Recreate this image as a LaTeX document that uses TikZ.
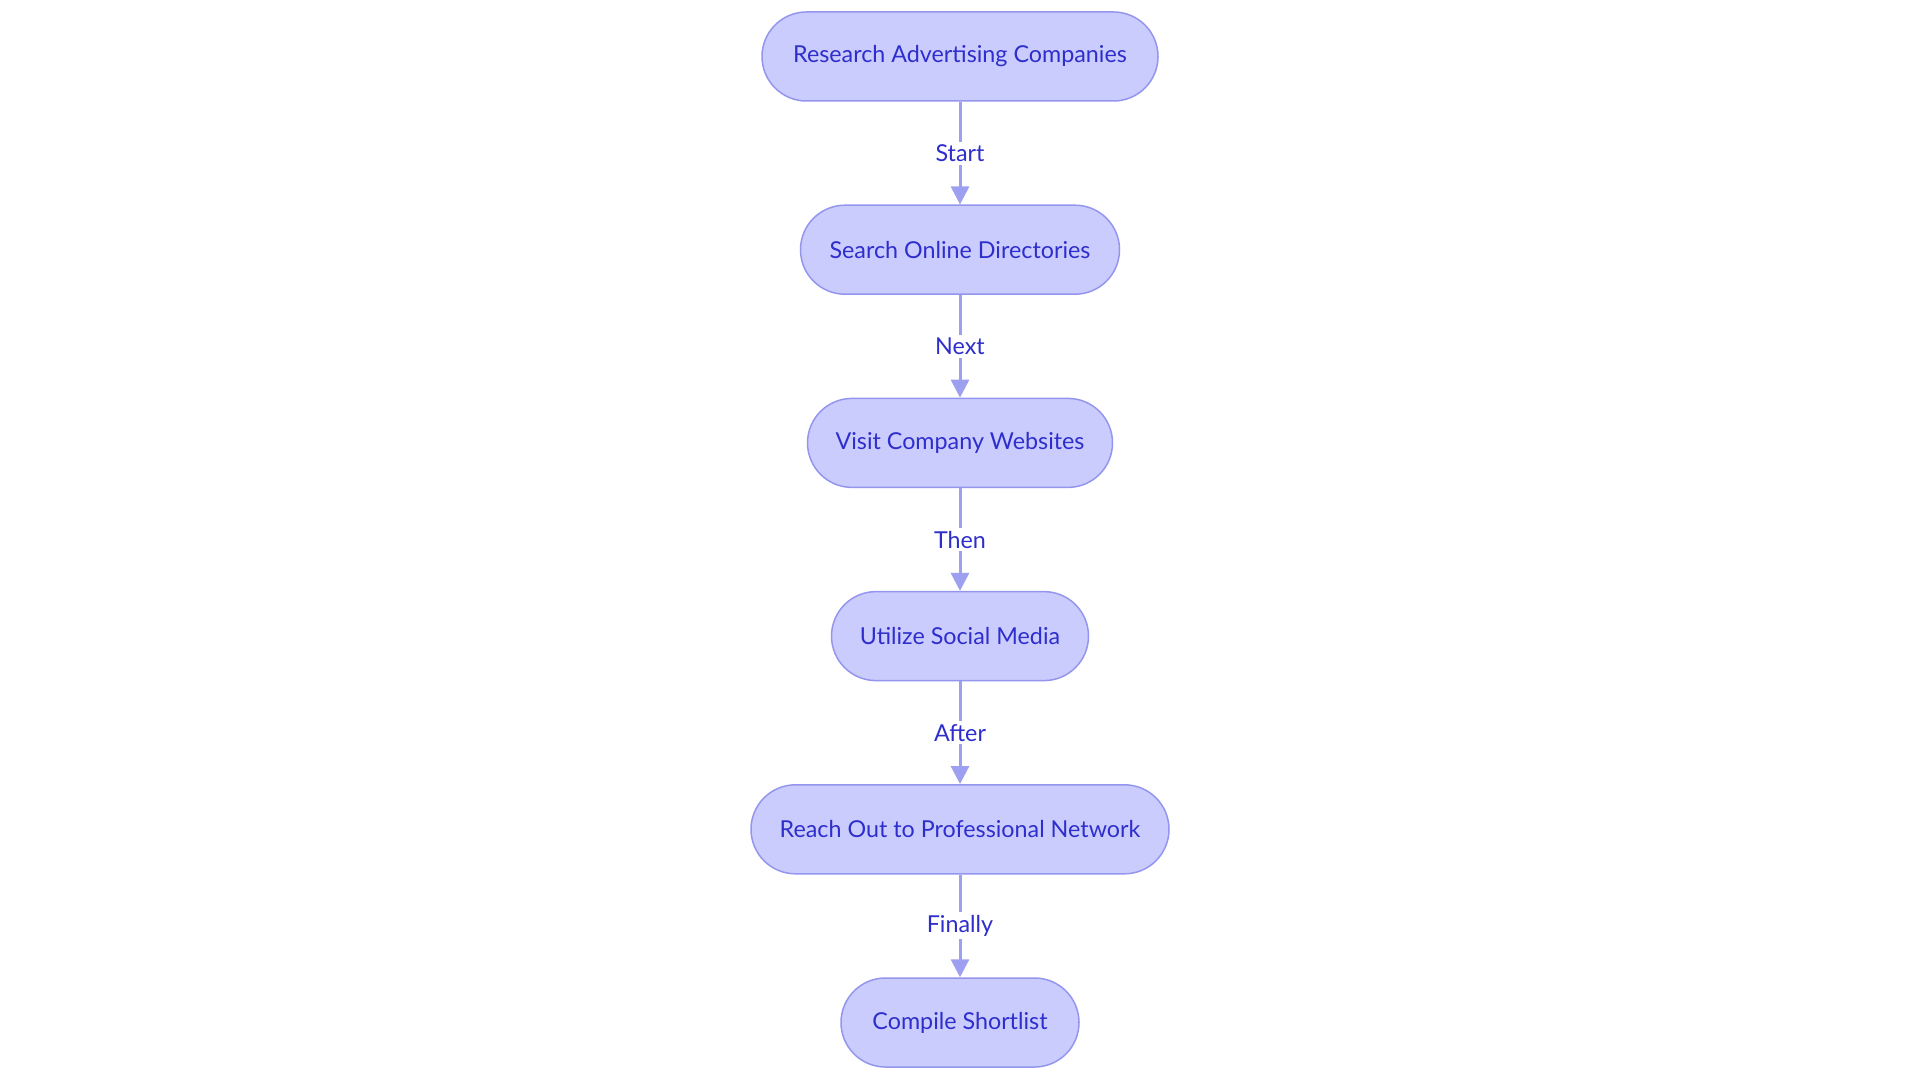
\documentclass[tikz,border=0pt]{standalone}
\usepackage{fontspec}
\setmainfont{Lato}
\usetikzlibrary{arrows.meta}
\definecolor{nodefill}{HTML}{CBCCFE}
\definecolor{nodeline}{HTML}{9496EE}
\definecolor{edgeline}{HTML}{9DA0F0}
\definecolor{txt}{HTML}{2E2ECC}
\tikzset{
  stepbox/.style={draw=nodeline, line width=1.5pt, fill=nodefill, rounded corners=44.5pt,
    minimum height=89pt, inner sep=0pt, text=txt, font=\fontsize{23.3}{27}\selectfont},
  flow/.style={draw=edgeline, line width=3pt, -{Triangle[length=18pt,width=18pt]}},
  lbl/.style={fill=white, text=txt, font=\fontsize{23.3}{27}\selectfont, inner sep=3pt}
}
\begin{document}
\begin{tikzpicture}[x=1pt,y=-1pt]
\useasboundingbox[fill=white] (0,0) rectangle (1920,1083);
\node[stepbox, minimum width=396pt] (n1) at (960,56.5) {Research Advertising Companies};
\node[stepbox, minimum width=319pt] (n2) at (960,249.7) {Search Online Directories};
\node[stepbox, minimum width=305pt] (n3) at (960,442.9) {Visit Company Websites};
\node[stepbox, minimum width=257pt] (n4) at (960,636.1) {Utilize Social Media};
\node[stepbox, minimum width=418pt] (n5) at (960,829.3) {Reach Out to Professional Network};
\node[stepbox, minimum width=238pt] (n6) at (960,1022.5) {Compile Shortlist};
\draw[flow] (n1) -- node[lbl] (l1) {Start} (n2);
\draw[flow] (n2) -- node[lbl] (l2) {Next} (n3);
\draw[flow] (n3) -- node[lbl] (l3) {Then} (n4);
\draw[flow] (n4) -- node[lbl] (l4) {After} (n5);
\draw[flow] (n5) -- node[lbl] (l5) {Finally} (n6);
\end{tikzpicture}
\end{document}
